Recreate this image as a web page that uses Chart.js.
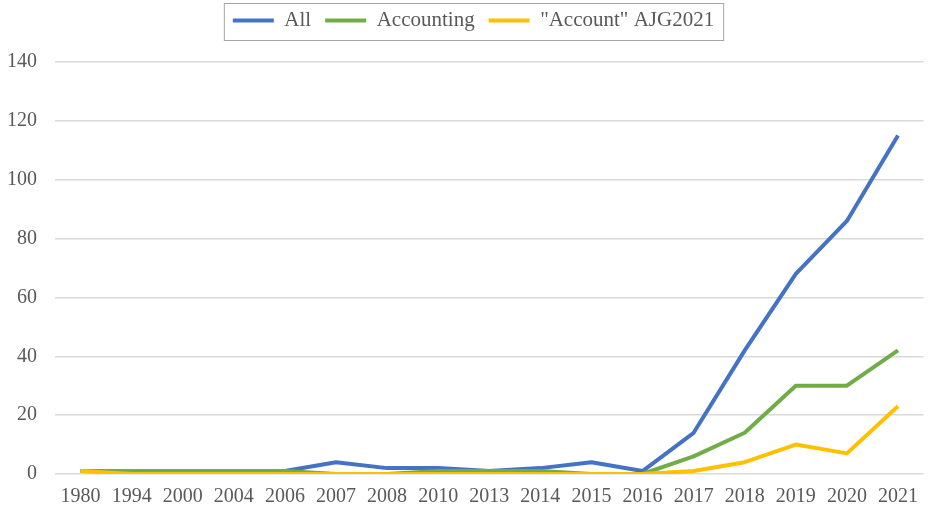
<!DOCTYPE html>
<html>
<head>
<meta charset="utf-8">
<script src="https://cdn.jsdelivr.net/npm/chart.js@4/dist/chart.umd.min.js"></script>
<style>
  html, body { margin: 0; padding: 0; background: #fff; overflow: hidden; }
  #wrap { width: 929px; height: 511px; }
</style>
</head>
<body>
<div id="wrap"><canvas id="chart"></canvas></div>
<script>
// data
const years = ['1980', '1994', '2000', '2004', '2006', '2007', '2008', '2010', '2013',
  '2014', '2015', '2016', '2017', '2018', '2019', '2020', '2021'];
const allPapers = [1, 1, 1, 1, 1, 4, 2, 2, 1, 2, 4, 1, 14, 42, 68, 86, 115];
const accounting = [1, 1, 1, 1, 1, 0, 0, 1, 1, 1, 0, 0, 6, 14, 30, 30, 42];
const ajgAccount = [1, 0, 0, 0, 0, 0, 0, 0, 0, 0, 0, 0, 1, 4, 10, 7, 23];
const yTicks = [0, 20, 40, 60, 80, 100, 120, 140];

const textGrey = '#595959';
const serif = '"Liberation Serif", "Times New Roman", serif';

// border around the legend + some extra room under it
const legendBox = {
  id: 'legendBox',
  beforeInit(chart) {
    const fit = chart.legend.fit;
    chart.legend.fit = function () {
      fit.call(this);
      this.height += 21;
    };
  },
  afterLayout(chart) {
    // nudge the legend a bit to the right
    chart.legend.left += 5;
    chart.legend.right += 5;
  },
  afterDraw(chart) {
    const boxes = chart.legend.legendHitBoxes;
    if (!boxes || !boxes.length) return;
    const left = Math.min(...boxes.map(b => b.left)) - 9;
    const right = Math.max(...boxes.map(b => b.left + b.width)) + 9;
    const top = 3, bottom = 40;
    const ctx = chart.ctx;
    ctx.save();
    ctx.strokeStyle = '#a6a6a6';
    ctx.lineWidth = 1;
    ctx.strokeRect(left + 0.5, top + 0.5, right - left, bottom - top);
    ctx.restore();
  }
};

function lineSet(label, values, color) {
  return {
    label: label,
    data: values,
    borderColor: color,
    backgroundColor: color,
    borderWidth: 4,
    pointRadius: 0,
    tension: 0,
    borderJoinStyle: 'round'
  };
}

new Chart(document.getElementById('chart'), {
  type: 'line',
  data: {
    labels: years,
    datasets: [
      lineSet('"Account" AJG2021', ajgAccount, '#FFC000'),
      lineSet('Accounting', accounting, '#70AD47'),
      lineSet('All', allPapers, '#4472C4')
    ]
  },
  plugins: [legendBox],
  options: {
    responsive: true,
    maintainAspectRatio: false,
    animation: false,
    layout: { padding: { left: 8, right: 0, top: -4, bottom: -9 } },
    plugins: {
      legend: {
        position: 'top',
        reverse: true,
        labels: {
          color: textGrey,
          font: { family: serif, size: 21 },
          boxWidth: 41,
          boxHeight: 4,
          padding: 14,
          generateLabels(chart) {
            const items = Chart.defaults.plugins.legend.labels.generateLabels(chart);
            items.forEach(it => { it.lineWidth = 0; });
            return items;
          }
        }
      },
      tooltip: { enabled: false }
    },
    scales: {
      x: {
        offset: true,
        grid: { display: false, drawTicks: false },
        border: { display: false },
        ticks: {
          color: textGrey,
          maxRotation: 0,
          autoSkip: false,
          padding: 11,
          font: { family: serif, size: 20 }
        }
      },
      y: {
        min: 0,
        max: 140,
        afterBuildTicks(axis) {
          axis.ticks = yTicks.map(v => ({ value: v }));
        },
        afterFit(axis) {
          axis.width = 47;
        },
        grid: { color: '#d9d9d9', lineWidth: 1.5, drawTicks: false },
        border: { display: false },
        ticks: {
          color: textGrey,
          padding: 18,
          font: { family: serif, size: 20 }
        }
      }
    }
  }
});
</script>
</body>
</html>
